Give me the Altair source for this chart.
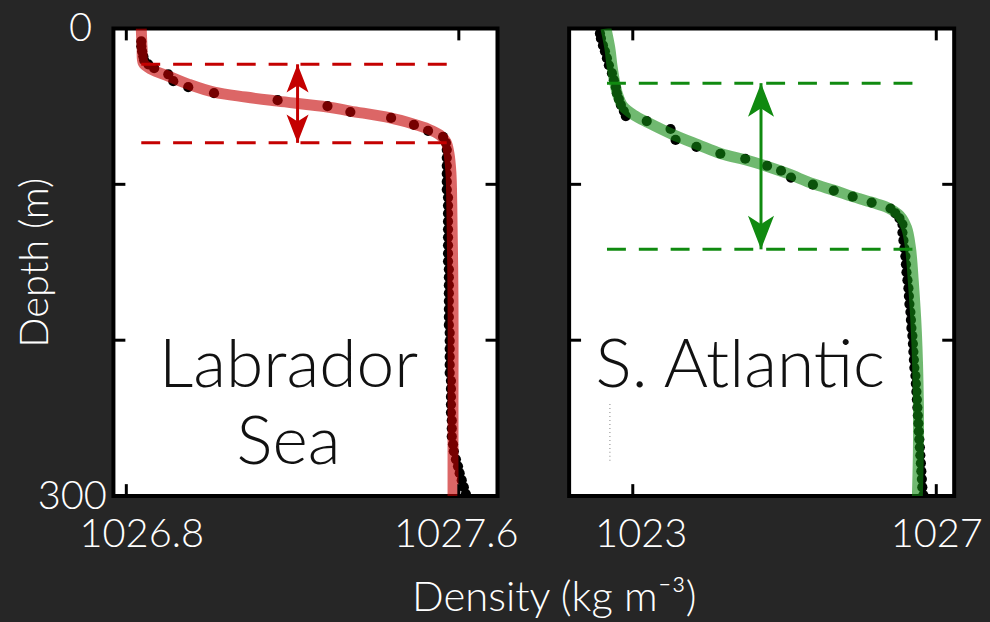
import altair as alt
import pandas as pd

FONT = "Lato"
BG = "#262626"

# ---------------- Labrador Sea ----------------
lab_fit_density = [1026.836, 1026.838, 1026.841, 1026.860, 1026.901, 1026.949, 1027.011, 1027.087,
                   1027.164, 1027.284, 1027.339, 1027.435, 1027.490, 1027.526, 1027.554, 1027.569,
                   1027.576, 1027.581, 1027.583, 1027.586, 1027.586, 1027.586]
lab_fit_depth = [0, 12.8, 22.3, 26.2, 30.6, 35.7, 40.9, 44.0, 46.6, 50.4, 53.0, 57.4, 61.3, 64.5,
                 68.3, 72.8, 79.8, 92.6, 111.7, 175.5, 239.4, 300]

lab_obs_density = [1026.836, 1026.836, 1026.838, 1026.841, 1026.843, 1026.853, 1026.867, 1026.901,
                   1026.913, 1026.949, 1027.011, 1027.164, 1027.284, 1027.339, 1027.437, 1027.492,
                   1027.526, 1027.562,
                   1027.569,
                   1027.571, 1027.571, 1027.571, 1027.571, 1027.571, 1027.571,
                   1027.574, 1027.574, 1027.574, 1027.574, 1027.574, 1027.574, 1027.574, 1027.574, 1027.574,
                   1027.576, 1027.576, 1027.576, 1027.576, 1027.576, 1027.576, 1027.576, 1027.576,
                   1027.578, 1027.578, 1027.578, 1027.578, 1027.578, 1027.578,
                   1027.581, 1027.581, 1027.581, 1027.581, 1027.581,
                   1027.583, 1027.583, 1027.583,
                   1027.586, 1027.588, 1027.593, 1027.598, 1027.602, 1027.607, 1027.612, 1027.617]
lab_obs_depth = [8.3, 11.5, 14.7, 17.9, 20.4, 23.0, 25.5, 29.4, 33.8, 37.7, 41.5, 46.0, 49.8, 53.6,
                 57.4, 61.9, 65.7, 69.6,
                 73.4, 77.9, 83.0, 88.1, 93.2, 98.3, 103.4, 108.5, 113.6, 118.7, 123.8, 128.9, 134.0,
                 139.1, 144.3, 149.4, 154.5, 159.6, 164.7, 169.8, 174.9, 180.0, 185.1, 190.2, 195.3,
                 200.4, 205.5, 210.6, 215.7, 220.9, 226.0, 231.1, 236.2, 241.3, 246.4, 251.5, 256.6,
                 261.7, 266.8, 271.3, 276.4, 280.9, 285.3, 289.8, 294.3, 298.7]

lab_band_depth = [23.0, 73.4]
lab_band_density = [1026.836, 1027.586]
lab_arrow_density = 1027.212
lab_xdomain = [1026.769, 1027.693]
lab_xticks = [1026.8, 1027.6]

# ---------------- S. Atlantic ----------------
sat_fit_density = [1022.646, 1022.698, 1022.725, 1022.764, 1022.803, 1022.869, 1023.013, 1023.210,
                   1023.511, 1023.866, 1024.167, 1024.482, 1024.784, 1025.046, 1025.374, 1025.662,
                   1025.898, 1026.161, 1026.357, 1026.515, 1026.607, 1026.659, 1026.698, 1026.738,
                   1026.764, 1026.764, 1026.751]
sat_fit_depth = [0, 12.8, 23.6, 35.1, 42.8, 49.8, 55.5, 60.6, 67.7, 74.7, 80.4, 84.3, 88.7, 93.2,
                 99.6, 104.0, 107.9, 111.7, 114.9, 120.0, 127.7, 140.4, 162.8, 194.7, 239.4, 271.3, 300]

sat_obs_density = [1022.567, 1022.580, 1022.607, 1022.633, 1022.659, 1022.685, 1022.725, 1022.751,
                   1022.777, 1022.790, 1022.816, 1022.843, 1022.882, 1022.908,
                   1023.184, 1023.498, 1023.564, 1023.839, 1024.154, 1024.482, 1024.770, 1024.954,
                   1025.085, 1025.374, 1025.649, 1025.898, 1026.148, 1026.397, 1026.462, 1026.515,
                   1026.554,
                   1026.554, 1026.567, 1026.580, 1026.593, 1026.600, 1026.607, 1026.620, 1026.633,
                   1026.639, 1026.646, 1026.659, 1026.666, 1026.672, 1026.685, 1026.692, 1026.698,
                   1026.705, 1026.711, 1026.725, 1026.731, 1026.738, 1026.744, 1026.751, 1026.757,
                   1026.764, 1026.770, 1026.777, 1026.784, 1026.790, 1026.797, 1026.803, 1026.810,
                   1026.816, 1026.830]
sat_obs_depth = [3.2, 6.4, 10.9, 14.7, 19.1, 23.6, 28.7, 33.2, 37.7, 41.5, 45.3, 49.1, 53.0, 56.2,
                 59.4, 64.5, 71.5, 76.0, 80.4, 83.6, 88.1, 91.3, 95.7, 100.2, 104.0, 107.9, 111.7,
                 115.5, 118.7, 121.9, 125.7,
                 130.9, 136.0, 141.1, 146.2, 151.3, 156.4, 161.5, 166.6, 171.7, 176.8, 181.9, 187.0,
                 192.1, 197.2, 202.3, 207.4, 212.6, 217.7, 222.8, 227.9, 233.0, 238.1, 243.2, 248.3,
                 253.4, 258.5, 263.6, 268.7, 273.8, 278.9, 284.0, 289.1, 294.3, 299.4]

sat_band_depth = [35.1, 141.7]
sat_band_density = [1022.66, 1026.72]
sat_arrow_density = 1024.69
sat_xdomain = [1022.161, 1027.236]
sat_xticks = [1023, 1027]
sat_trace_density = 1022.698
sat_trace_depth = [241.0, 278.0]

depth_ticks = [100, 200]
depth_labels = [0, 300]
x_title = "Density (kg m⁻³)"
y_title = "Depth (m)"

UP = "M0,0 L0.7,1.8 L0,1.35 L-0.7,1.8 Z"
DOWN = "M0,0 L0.7,-1.8 L0,-1.35 L-0.7,-1.8 Z"


def panel(fit_d, fit_z, obs_d, obs_z, band_z, band_d, arrow_d, dark, xdom, xticks, xfmt,
          thr, off_first, off_last, width, show_y, lines, label_x, head_size, extra=None):
    H = 470
    xs = alt.Scale(domain=xdom, nice=False, zero=False)
    ys = alt.Scale(domain=[0, 300], reverse=True, nice=False, zero=False)
    xax = alt.Axis(values=xticks, ticks=False, domain=False, grid=False, labelFontSize=40,
                   labelColor="white", labelFont=FONT, labelFontWeight=300, labelPadding=19,
                   labelFlush=False, labelBaseline="top", format=xfmt,
                   labelOffset={"condition": {"test": f"datum.value < {thr}", "value": off_first},
                                "value": off_last},
                   title=None)
    if show_y:
        yax = alt.Axis(values=depth_labels, ticks=False, domain=False, grid=False,
                       labelFontSize=40, labelColor="white", labelFont=FONT, labelFontWeight=300,
                       labelBaseline="middle", labelFlush=False,
                       labelPadding={"condition": {"test": "datum.value === 0", "value": 22},
                                     "value": 7},
                       title=y_title, titleFontSize=40, titleColor="white", titleFont=FONT,
                       titleFontWeight=300, titlePadding=-18)
    else:
        yax = None
    X = alt.X("density:Q", scale=xs, axis=xax)
    Y = alt.Y("depth:Q", scale=ys, axis=yax)

    fit_df = pd.DataFrame({"density": fit_d, "depth": fit_z})
    obs_df = pd.DataFrame({"density": obs_d, "depth": obs_z})
    band_df = pd.DataFrame({"density": [band_d[0]] * 2, "x_end": [band_d[1]] * 2, "depth": band_z})
    shaft_df = pd.DataFrame({"density": [arrow_d], "depth": [band_z[0]], "d_end": [band_z[1]]})
    head_df = pd.DataFrame({"density": [arrow_d, arrow_d], "depth": band_z, "dir": ["up", "down"]})
    ytick_df = pd.DataFrame({"depth": depth_ticks})
    xtick_df = pd.DataFrame({"density": xticks})

    layers = []
    if extra is not None:
        tr_df = pd.DataFrame({"density": [extra[0]], "depth": [extra[1][0]], "d_end": [extra[1][1]]})
        layers.append(alt.Chart(tr_df).mark_rule(color="#9a9a9a", strokeDash=[1, 3],
                                                 strokeWidth=1.5, opacity=0.8).encode(
            x=X, y=Y, y2="d_end:Q"))
    layers += [
        alt.Chart(obs_df).mark_circle(size=105, color="black", opacity=1, clip=True).encode(x=X, y=Y),
        alt.Chart(fit_df).mark_line(color=dark, opacity=0.6, strokeWidth=11, clip=True,
                                    interpolate="catmull-rom").encode(x=X, y=Y, order="depth:Q"),
        alt.Chart(band_df).mark_rule(color=dark, strokeWidth=3, strokeDash=[19, 13]).encode(
            x=X, x2="x_end:Q", y=Y),
        alt.Chart(shaft_df).mark_rule(color=dark, strokeWidth=3).encode(x=X, y=Y, y2="d_end:Q"),
        alt.Chart(head_df).mark_point(filled=True, opacity=1, strokeWidth=0, color=dark).encode(
            x=X, y=Y,
            shape=alt.Shape("dir:N", scale=alt.Scale(domain=["up", "down"], range=[UP, DOWN]),
                            legend=None),
            size=alt.value(head_size)),
        alt.Chart(ytick_df).mark_rule(color="black", strokeWidth=3).encode(
            y=Y, x=alt.value(0), x2=alt.value(12)),
        alt.Chart(ytick_df).mark_rule(color="black", strokeWidth=3).encode(
            y=Y, x=alt.value(width - 12), x2=alt.value(width)),
        alt.Chart(xtick_df).mark_rule(color="black", strokeWidth=3).encode(
            x=X, y=alt.value(0), y2=alt.value(12)),
        alt.Chart(xtick_df).mark_rule(color="black", strokeWidth=3).encode(
            x=X, y=alt.value(H - 12), y2=alt.value(H)),
    ]
    for i, ln in enumerate(lines):
        layers.append(alt.Chart(pd.DataFrame({"t": [ln]})).mark_text(
            font=FONT, fontSize=68, fontWeight=300, color="#111111", align="center",
            baseline="alphabetic").encode(text="t:N", x=alt.value(label_x),
                                          y=alt.value(360 + 78 * i)))
    if show_y:
        layers.append(alt.Chart(pd.DataFrame({"t": [x_title]})).mark_text(
            font=FONT, fontSize=42, fontWeight=300, color="white", align="center",
            baseline="alphabetic").encode(text="t:N", x=alt.value(443), y=alt.value(586)))
    return alt.layer(*layers).properties(width=width, height=H)


left = panel(lab_fit_density, lab_fit_depth, lab_obs_density, lab_obs_depth, lab_band_depth,
             lab_band_density, lab_arrow_density, "#c40000", lab_xdomain, lab_xticks, ".1f",
             1027.2, 15, -3, 386, True, ["Labrador", "Sea"], 176, 1000)
right = panel(sat_fit_density, sat_fit_depth, sat_obs_density, sat_obs_depth, sat_band_depth,
              sat_band_density, sat_arrow_density, "#108a10", sat_xdomain, sat_xticks, "d",
              1025, 8, 0, 387, False, ["S. Atlantic"], 172, 1400,
              extra=(sat_trace_density, sat_trace_depth))

chart = alt.hconcat(left, right, spacing=72, bounds="flush").resolve_scale(
    x="independent", y="independent", shape="independent").properties(
    padding={"left": 13, "top": 5, "right": 5, "bottom": 5}).configure(
    background=BG).configure_view(stroke="black", strokeWidth=4, fill="white")

chart.save("out.html", embed_options={"renderer": "svg", "actions": False})
